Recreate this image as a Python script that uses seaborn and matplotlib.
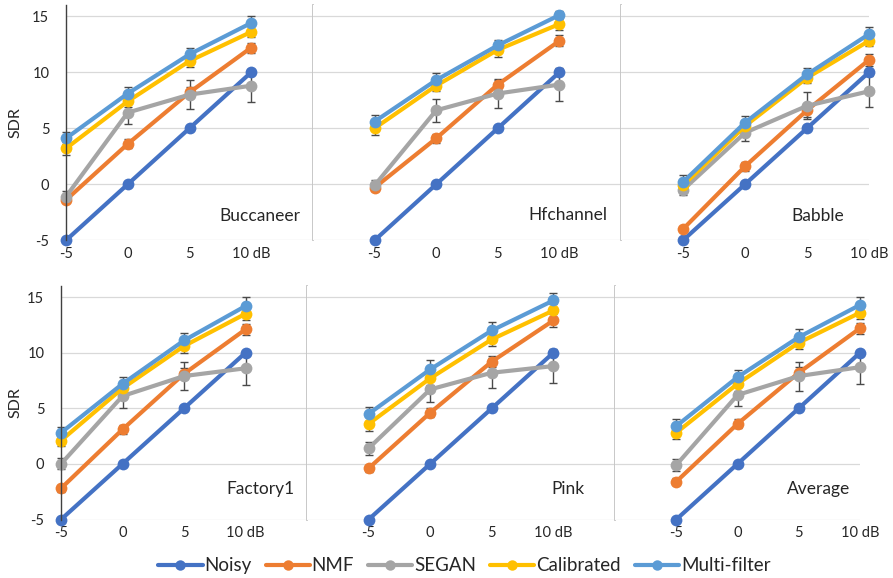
import matplotlib
matplotlib.use("Agg")
import matplotlib.pyplot as plt
from matplotlib.lines import Line2D
import seaborn as sns
import pandas as pd

snr = [-5, 0, 5, 10]
snr_labels = ["-5", "0", "5", "10 dB"]
panels = ["Buccaneer", "Hfchannel", "Babble", "Factory1", "Pink", "Average"]
methods = ["Noisy", "NMF", "SEGAN", "Calibrated", "Multi-filter"]
colors = ["#4472C4", "#ED7D31", "#A5A5A5", "#FFC000", "#5B9BD5"]

# SDR values, one row per panel (same order as `panels`), columns follow `snr`
noisy = [[-5, 0, 5, 10]] * 6
nmf = [
    [-1.4, 3.6, 8.2, 12.2],
    [-0.3, 4.1, 8.9, 12.8],
    [-4.0, 1.6, 6.6, 11.1],
    [-2.2, 3.1, 8.1, 12.1],
    [-0.4, 4.6, 9.2, 12.9],
    [-1.6, 3.6, 8.2, 12.2],
]
segan = [
    [-1.1, 6.4, 8.0, 8.8],
    [-0.1, 6.6, 8.1, 8.9],
    [-0.5, 4.6, 7.0, 8.3],
    [0.0, 6.1, 7.9, 8.6],
    [1.4, 6.7, 8.2, 8.8],
    [-0.1, 6.2, 7.9, 8.7],
]
calibrated = [
    [3.2, 7.4, 11.0, 13.6],
    [5.0, 8.8, 12.0, 14.3],
    [-0.1, 5.2, 9.5, 12.8],
    [2.1, 6.8, 10.6, 13.5],
    [3.6, 7.7, 11.2, 13.8],
    [2.8, 7.2, 10.9, 13.6],
]
multi = [
    [4.1, 8.1, 11.6, 14.4],
    [5.6, 9.3, 12.4, 15.1],
    [0.2, 5.5, 9.8, 13.4],
    [2.8, 7.2, 11.1, 14.2],
    [4.5, 8.5, 12.0, 14.7],
    [3.4, 7.8, 11.4, 14.3],
]

# error bar half-widths
nmf_err = [
    [0.3, 0.4, 0.5, 0.45],
    [0.3, 0.4, 0.5, 0.5],
    [0.3, 0.4, 0.6, 0.5],
    [0.3, 0.4, 0.5, 0.5],
    [0.3, 0.4, 0.5, 0.6],
    [0.3, 0.4, 0.5, 0.5],
]
segan_err = [
    [0.5, 1.0, 1.3, 1.5],
    [0.5, 1.05, 1.25, 1.5],
    [0.45, 0.7, 1.2, 1.4],
    [0.5, 1.05, 1.25, 1.5],
    [0.6, 1.1, 1.35, 1.55],
    [0.5, 1.0, 1.3, 1.5],
]
calibrated_err = [
    [0.55, 0.5, 0.55, 0.5],
    [0.6, 0.5, 0.6, 0.5],
    [0.5, 0.5, 0.5, 0.5],
    [0.5, 0.6, 0.6, 0.6],
    [0.6, 0.6, 0.6, 0.6],
    [0.55, 0.6, 0.6, 0.6],
]
multi_err = [
    [0.55, 0.6, 0.6, 0.6],
    [0.55, 0.6, 0.45, 0.35],
    [0.6, 0.6, 0.6, 0.65],
    [0.5, 0.65, 0.7, 0.8],
    [0.65, 0.8, 0.75, 0.7],
    [0.6, 0.65, 0.7, 0.75],
]

values = [noisy, nmf, segan, calibrated, multi]
errors = [None, nmf_err, segan_err, calibrated_err, multi_err]

rows = []
for m, vals, errs in zip(methods, values, errors):
    for p, name in enumerate(panels):
        for i, s in enumerate(snr):
            rows.append({"panel": name, "method": m, "snr": s,
                         "sdr": vals[p][i],
                         "err": errs[p][i] if errs is not None else 0.0})
df = pd.DataFrame(rows)

sns.set_style("white")
plt.rcParams["font.family"] = ["Lato", "DejaVu Sans"]
plt.rcParams["axes.unicode_minus"] = False

W, H = 893, 578
fig = plt.figure(figsize=(W / 100, H / 100), dpi=100)

# pixel layout: (top, bottom, panel edges) for each row
layout = [
    (5, 240.3, [66, 313, 621, 869]),
    (286, 519.5, [61, 307, 615, 860]),
]
xlims = [(-5, 15), (-10, 15), (-10, 10)]
label_x = [[0.947, 0.955, 0.90], [0.95, 0.90, 0.96]]
label_y = [[0.102, 0.107, 0.102], [0.131, 0.129, 0.129]]
palette = dict(zip(methods, colors))

for r, (top, bot, edges) in enumerate(layout):
    for c in range(3):
        name = panels[r * 3 + c]
        ax = fig.add_axes([edges[c] / W, 1 - bot / H,
                           (edges[c + 1] - edges[c]) / W, (bot - top) / H])
        sub = df[df["panel"] == name]

        for m in methods[1:]:
            d = sub[sub["method"] == m]
            ax.errorbar(d["snr"], d["sdr"], yerr=d["err"], fmt="none",
                        ecolor="#4a4a4a", elinewidth=1.0, capsize=3,
                        capthick=1.0, zorder=1.5, clip_on=False)

        sns.lineplot(data=sub, x="snr", y="sdr", hue="method",
                     hue_order=methods, palette=palette, marker="o",
                     markersize=8.5, markeredgewidth=0, linewidth=3.0,
                     errorbar=None, legend=False, clip_on=False, ax=ax)

        ax.set_xlim(*xlims[c])
        ax.set_ylim(-5, 16)
        ax.set_xticks(snr)
        ax.set_xticklabels(snr_labels, fontsize=10.5)
        ax.set_yticks([-5, 0, 5, 10, 15])
        ax.yaxis.grid(True, color="#D9D9D9", linewidth=0.9)
        ax.xaxis.grid(False)
        ax.tick_params(length=0, pad=5)
        ax.set_xlabel("")
        for sp in ax.spines.values():
            sp.set_visible(False)
        if c == 0:
            ax.set_yticklabels(["-5", "0", "5", "10", "15"], fontsize=10.5)
            ax.tick_params(axis="y", pad=12)
            ax.spines["left"].set_visible(True)
            ax.spines["left"].set_color("#404040")
            ax.spines["left"].set_linewidth(1.0)
            ax.set_ylabel("SDR", fontsize=11.5)
            ax.yaxis.set_label_coords((22 - edges[0]) / (edges[1] - edges[0]), 0.5)
        else:
            ax.set_yticklabels([])
            ax.set_ylabel("")
        if c < 2:
            ax.spines["right"].set_visible(True)
            ax.spines["right"].set_color("#C4C4C4")
            ax.spines["right"].set_linewidth(1.3)
        ax.text(label_x[r][c], label_y[r][c], name, transform=ax.transAxes,
                ha="right", va="center", fontsize=12.5)

handles = [Line2D([0], [0], color=col, lw=3.0, marker="o", markersize=7.5,
                  markeredgewidth=0) for col in colors]
fig.legend(handles, methods, loc="center", bbox_to_anchor=(0.52, 0.021),
           ncol=5, frameon=False, fontsize=13.5, handlelength=2.35,
           handletextpad=0.1, columnspacing=0.75)

fig.savefig("out.png", dpi=100)
